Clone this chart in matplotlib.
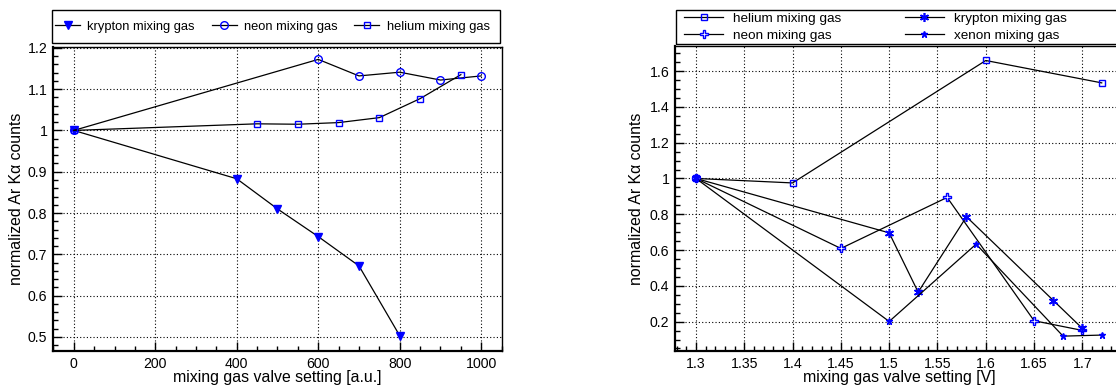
import matplotlib
matplotlib.use("Agg")
import matplotlib.pyplot as plt
from matplotlib.ticker import MultipleLocator, FuncFormatter
from matplotlib.patches import Rectangle

plt.rcParams['font.family'] = ['Liberation Sans', 'DejaVu Sans']

# ---- left panel data ----
kr_l_x = [0, 400, 500, 600, 700, 800]
kr_l_y = [1.0, 0.883, 0.81, 0.743, 0.672, 0.503]
ne_l_x = [0, 600, 700, 800, 900, 1000]
ne_l_y = [1.0, 1.172, 1.132, 1.141, 1.122, 1.132]
he_l_x = [0, 450, 550, 650, 750, 850, 950]
he_l_y = [1.0, 1.016, 1.015, 1.019, 1.031, 1.077, 1.135]

# ---- right panel data ----
he_r_x = [1.3, 1.4, 1.6, 1.72]
he_r_y = [1.0, 0.975, 1.659, 1.534]
ne_r_x = [1.3, 1.45, 1.56, 1.65, 1.7]
ne_r_y = [1.0, 0.609, 0.894, 0.205, 0.151]
kr_r_x = [1.3, 1.5, 1.53, 1.58, 1.67, 1.7]
kr_r_y = [1.0, 0.696, 0.365, 0.786, 0.318, 0.162]
xe_r_x = [1.3, 1.5, 1.59, 1.68, 1.72]
xe_r_y = [1.0, 0.201, 0.633, 0.119, 0.125]

left_labels = ["krypton mixing gas", "neon mixing gas", "helium mixing gas"]
right_labels = ["helium mixing gas", "neon mixing gas", "krypton mixing gas", "xenon mixing gas"]
xlabel_left = "mixing gas valve setting [a.u.]"
xlabel_right = "mixing gas valve setting [V]"
ylabel = "normalized Ar K\u03b1 counts"

W, H = 1116, 387
fig = plt.figure(figsize=(W / 100, H / 100), dpi=100)

def px_axes(l, t, r, b):
    return fig.add_axes([l / W, 1 - b / H, (r - l) / W, (b - t) / H])

def px_frame(l, t, r, b):
    fig.patches.append(Rectangle((l / W, 1 - b / H), (r - l) / W, (b - t) / H,
                                 transform=fig.transFigure, fill=False,
                                 edgecolor='black', linewidth=1.0))

BLUE = '#0000ff'
fmt = FuncFormatter(lambda v, p: '%g' % round(v, 6))

def style(ax, xmaj, xmin, ymaj, ymin):
    ax.xaxis.set_major_locator(MultipleLocator(xmaj))
    ax.xaxis.set_minor_locator(MultipleLocator(xmin))
    ax.yaxis.set_major_locator(MultipleLocator(ymaj))
    ax.yaxis.set_minor_locator(MultipleLocator(ymin))
    ax.xaxis.set_major_formatter(fmt)
    ax.yaxis.set_major_formatter(fmt)
    ax.tick_params(which='both', direction='in', top=False, right=False,
                   labelsize=10.2, width=1.0, colors='black')
    ax.tick_params(which='major', length=6.5, pad=4)
    ax.tick_params(which='minor', length=3.8)
    ax.grid(True, which='major', color='black', linestyle=(0, (1, 2)), linewidth=0.8)
    for s in ['left', 'bottom']:
        ax.spines[s].set_linewidth(1.6)
    for s in ['top', 'right']:
        ax.spines[s].set_linewidth(1.0)

line_kw = dict(color='black', lw=0.9)

# ---------- left ----------
ax1 = px_axes(53, 47, 502, 351)
l1, = ax1.plot(kr_l_x, kr_l_y, marker='v', ms=6, mfc=BLUE, mec=BLUE, **line_kw)
l2, = ax1.plot(ne_l_x, ne_l_y, marker='o', ms=5.5, mfc='none', mec=BLUE, mew=1.0, **line_kw)
l3, = ax1.plot(he_l_x, he_l_y, marker='s', ms=5, mfc='none', mec=BLUE, mew=1.0, **line_kw)
ax1.set_xlim(-51, 1051)
ax1.set_ylim(0.466, 1.202)
style(ax1, 200, 50, 0.1, 0.02)
ax1.set_xlabel(xlabel_left, fontsize=11.4)
ax1.set_ylabel(ylabel, fontsize=11.4)
ax1.xaxis.set_label_coords(0.5, -0.062)
ax1.yaxis.set_label_coords(-0.065, 0.5)

px_frame(52, 10, 500, 43)
fig.legend([l1, l2, l3], left_labels, loc='center left', ncol=3,
           bbox_to_anchor=(55 / W, 1 - 26.5 / H), frameon=False,
           fontsize=9.3, handlelength=1.95, handletextpad=0.55,
           columnspacing=1.3, borderaxespad=0, borderpad=0)

# ---------- right ----------
ax2 = px_axes(675, 46, 1126, 351)
asterisk = (6, 2, 0)
r1, = ax2.plot(he_r_x, he_r_y, marker='s', ms=5, mfc='none', mec=BLUE, mew=1.0, **line_kw)
r2, = ax2.plot(ne_r_x, ne_r_y, marker='P', ms=6, mfc='white', mec=BLUE, mew=1.0, **line_kw)
r3, = ax2.plot(kr_r_x, kr_r_y, marker=asterisk, ms=6.5, mfc=BLUE, mec=BLUE, mew=1.2, **line_kw)
r4, = ax2.plot(xe_r_x, xe_r_y, marker='*', ms=5, mfc=BLUE, mec=BLUE, **line_kw)
ax2.set_xlim(1.2783, 1.3 + (1126 - 696) / 966)
ax2.set_ylim(0.036, 1.74)
style(ax2, 0.05, 0.01, 0.2, 0.05)
ax2.set_xlabel(xlabel_right, fontsize=11.4)
ax2.set_ylabel(ylabel, fontsize=11.4)
ax2.xaxis.set_label_coords(0.497, -0.062)
ax2.yaxis.set_label_coords(-0.069, 0.5)

px_frame(676, 10, 1130, 44)
fig.legend([r1, r2, r3, r4], right_labels, loc='center left', ncol=2,
           bbox_to_anchor=(684 / W, 1 - 27 / H), frameon=False,
           fontsize=9.7, handlelength=2.9, handletextpad=0.75,
           columnspacing=4.7, labelspacing=0.33, borderaxespad=0, borderpad=0)

fig.savefig('out.png', dpi=100)
